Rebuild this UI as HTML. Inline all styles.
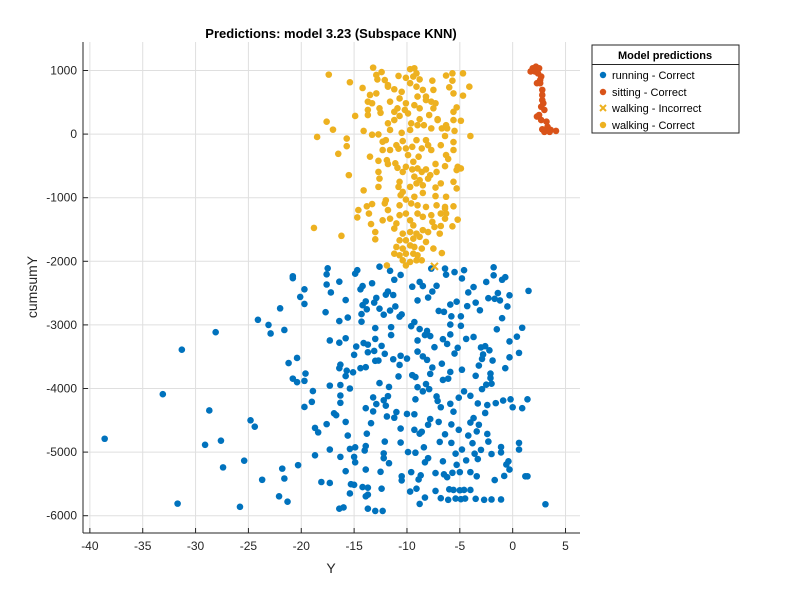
<!DOCTYPE html>
<html><head><meta charset="utf-8"><style>
body{margin:0;background:#fff;width:800px;height:600px;overflow:hidden;font-family:"Liberation Sans",Arial,sans-serif}
svg text{font-family:"Liberation Sans",Arial,sans-serif}
</style></head><body>
<svg id="chart" width="800" height="600" xmlns="http://www.w3.org/2000/svg">
<rect x="0" y="0" width="800" height="600" fill="#fff"/>
<g id="grid"></g>
<g id="marks"></g>
<g id="axes"></g>
<text x="331" y="38" text-anchor="middle" font-size="13" font-weight="bold" fill="#000">Predictions: model 3.23 (Subspace KNN)</text>
<text x="331" y="573" text-anchor="middle" font-size="14" fill="#262626">Y</text>
<text x="37" y="287" text-anchor="middle" font-size="14" fill="#262626" transform="rotate(-90 37 287)">cumsumY</text>
<g>
<rect x="592" y="45" width="147" height="88" fill="#fff" stroke="#262626" stroke-width="1"/>
<text x="665" y="59" text-anchor="middle" font-size="11" font-weight="bold" fill="#000">Model predictions</text>
<line x1="592" y1="64.5" x2="739" y2="64.5" stroke="#262626"/>
<g><circle cx="603" cy="75" r="3.2" fill="#0072BD"/><text x="612" y="79" font-size="11" fill="#000">running - Correct</text></g>
<g><circle cx="603" cy="92" r="3.2" fill="#D95319"/><text x="612" y="96" font-size="11" fill="#000">sitting - Correct</text></g>
<g><path d="M600 105 L606 111 M606 105 L600 111" stroke="#EDB120" stroke-width="2"/><text x="612" y="112" font-size="11" fill="#000">walking - Incorrect</text></g>
<g><circle cx="603" cy="125" r="3.2" fill="#EDB120"/><text x="612" y="129" font-size="11" fill="#000">walking - Correct</text></g>
</g>
</svg>
<script>
const xTicks=[-40,-35,-30,-25,-20,-15,-10,-5,0,5];
const yTicks=[-6000,-5000,-4000,-3000,-2000,-1000,0,1000];
const runningX=[-38.6,-33.1,-31.3,-31.7,-28.1,-28.7,-29.1,-27.6,-27.4,-25.8,-25.4,-24.8,-24.4,-24.1,-23.7,-23.1,-22.9,-22.0,-22.1,-21.8,-21.6,-21.6,-21.3,-21.2,-20.8,-20.8,-20.8,-20.4,-20.3,-20.4,-20.1,-19.7,-19.7,-19.7,-19.6,-19.7,-19.0,-18.9,-18.7,-18.7,-18.4,-18.1,-17.7,-17.6,-17.5,-17.6,-17.6,-17.3,-17.3,-17.3,-17.3,-17.2,-16.9,-16.7,-16.4,-16.4,-16.4,-16.4,-16.3,-16.3,-16.3,-16.3,-16.3,-16.4,-16.0,-15.8,-15.8,-15.8,-15.7,-15.8,-15.8,-15.6,-15.6,-15.4,-15.4,-15.4,-15.3,-15.1,-15.0,-15.0,-15.0,-14.9,-14.9,-14.9,-14.8,-14.7,-14.4,-14.4,-14.3,-14.3,-14.2,-14.2,-14.1,-14.2,-14.0,-13.9,-13.9,-13.9,-13.9,-13.9,-13.9,-13.8,-13.8,-13.7,-13.7,-13.7,-13.7,-13.7,-13.4,-13.3,-13.2,-13.2,-13.1,-13.1,-13.0,-13.0,-13.0,-12.9,-12.9,-13.0,-12.7,-12.6,-12.6,-12.6,-12.5,-12.4,-12.4,-12.3,-12.2,-12.2,-12.2,-12.2,-12.1,-12.1,-12.0,-12.0,-11.9,-11.8,-11.8,-11.7,-11.7,-11.6,-11.6,-11.5,-11.5,-11.3,-11.3,-11.2,-11.2,-11.1,-11.0,-10.8,-10.7,-10.7,-10.6,-10.6,-10.6,-10.5,-10.5,-10.5,-10.6,-10.0,-10.0,-9.9,-9.7,-9.6,-9.6,-9.5,-9.5,-9.3,-9.3,-9.3,-9.2,-9.2,-9.2,-9.1,-9.0,-9.0,-9.0,-9.0,-8.9,-8.8,-8.8,-8.8,-8.8,-8.7,-8.6,-8.5,-8.5,-8.5,-8.4,-8.3,-8.3,-8.3,-8.2,-8.1,-8.1,-8.0,-8.0,-8.0,-7.9,-7.8,-7.8,-7.8,-7.7,-7.6,-7.6,-7.4,-7.3,-7.3,-7.2,-7.2,-7.1,-7.0,-7.0,-6.9,-6.8,-6.8,-6.7,-6.6,-6.6,-6.6,-6.5,-6.5,-6.4,-6.3,-6.4,-6.2,-6.2,-6.1,-6.1,-6.0,-5.9,-5.9,-5.9,-5.9,-5.9,-5.8,-5.8,-5.8,-5.7,-5.6,-5.6,-5.5,-5.5,-5.4,-5.4,-5.3,-5.3,-5.2,-5.1,-5.1,-5.0,-5.0,-4.9,-4.9,-4.9,-4.8,-4.8,-4.8,-4.6,-4.6,-4.6,-4.5,-4.4,-4.4,-4.3,-4.2,-4.2,-4.0,-4.0,-4.0,-4.0,-3.8,-3.7,-3.7,-3.7,-3.6,-3.5,-3.5,-3.5,-3.4,-3.4,-3.3,-3.3,-3.2,-3.2,-3.1,-3.0,-3.0,-2.9,-2.9,-2.8,-2.7,-2.6,-2.6,-2.5,-2.5,-2.4,-2.4,-2.3,-2.3,-2.2,-2.1,-2.1,-2.0,-2.0,-2.0,-1.9,-1.8,-1.8,-1.7,-1.7,-1.6,-1.5,-1.4,-1.2,-1.1,-1.1,-1.1,-1.0,-1.0,-0.9,-0.8,-0.7,-0.7,-0.6,-0.5,-0.4,-0.3,-0.3,-0.3,-0.3,-0.2,0.0,0.4,0.6,0.6,0.6,0.9,0.9,1.2,1.4,1.4,1.5,3.1];
const runningY=[-4790,-4090,-3390,-5810,-3115,-4345,-4885,-4820,-5240,-5860,-5135,-4500,-4600,-2920,-5435,-3000,-3135,-2740,-5695,-5260,-5415,-3080,-5780,-3600,-2265,-2235,-3845,-3520,-5205,-3900,-2560,-2670,-2440,-3880,-3765,-4290,-4210,-4040,-4620,-5050,-4690,-5470,-2800,-2205,-2110,-2365,-4560,-3955,-3245,-4960,-5485,-2490,-4390,-4420,-2320,-2940,-3280,-3680,-3625,-3945,-4110,-4225,-5075,-5890,-5870,-2610,-3210,-3805,-3720,-4525,-5300,-4740,-2885,-4000,-4950,-5650,-5505,-3745,-5515,-3470,-5075,-5160,-2195,-4925,-3340,-2140,-3680,-2440,-2830,-2950,-2390,-2690,-3285,-5550,-4975,-5695,-4905,-4310,-5275,-3665,-2630,-2755,-4710,-3430,-3310,-5670,-5560,-5890,-4545,-2345,-4140,-4360,-2650,-3410,-3220,-3565,-3050,-2575,-4245,-5925,-3560,-2085,-3915,-2745,-5310,-5575,-3330,-5925,-4185,-5020,-2840,-5095,-4835,-3455,-2525,-4270,-4440,-4120,-2475,-5175,-3975,-2150,-2775,-3035,-3160,-2530,-3540,-4460,-2290,-2710,-4370,-3810,-2870,-3630,-3485,-4850,-4630,-2835,-5380,-5445,-2215,-4400,-3530,-5000,-5620,-5315,-3020,-2400,-3790,-4405,-2955,-4650,-5010,-4170,-3820,-5575,-2615,-3420,-3245,-3980,-5430,-2325,-5815,-3065,-4710,-5365,-4680,-2390,-3495,-4045,-4925,-3160,-5715,-5160,-3930,-3550,-3095,-4570,-2570,-5095,-4010,-4480,-3770,-3175,-2115,-3670,-2475,-3350,-5330,-5610,-2385,-4125,-4195,-4525,-2780,-4840,-5725,-4295,-3610,-3865,-5145,-3225,-5350,-2795,-2115,-2210,-4720,-5395,-3300,-5750,-3845,-5585,-2680,-3150,-4240,-3740,-2995,-4565,-4855,-2865,-5325,-4365,-5595,-2170,-3450,-5730,-5025,-5200,-2635,-3360,-4650,-4145,-5600,-5315,-5740,-2865,-3015,-2270,-3705,-4960,-2140,-4045,-5595,-5730,-3220,-5130,-2705,-4740,-2490,-5315,-4535,-5595,-4115,-4860,-2405,-4465,-3190,-5025,-5735,-3800,-2650,-4675,-5380,-4235,-5110,-3640,-4570,-2770,-4965,-3355,-4010,-3535,-3465,-5750,-3335,-4385,-2325,-3940,-4715,-4260,-4835,-2580,-3400,-3835,-3765,-5030,-5745,-3925,-3560,-2095,-2220,-2590,-5440,-4230,-3070,-2500,-2615,-4920,-5745,-5005,-2895,-2290,-4190,-5375,-3680,-2250,-5195,-2710,-5145,-3510,-3260,-2535,-5275,-4170,-4295,-3185,-4855,-4960,-3440,-4310,-3045,-5380,-5380,-4170,-2465,-5820];
const walkingX=[-17.4,-15.4,-13.2,-12.4,-12.9,-12.8,-12.1,-11.8,-14.2,-11.2,-13.5,-12.9,-11.6,-10.5,-10.1,-9.7,-9.3,-9.1,-9.4,-8.8,-9.7,-9.1,-8.5,-7.6,-7.5,-6.3,-5.7,-4.7,-5.7,-6.0,-5.6,-4.1,-4.7,-8.2,-7.7,-7.3,-9.0,-9.3,-10.1,-10.7,-10.9,-10.2,-13.7,-13.7,-12.6,-12.5,-14.9,-13.7,-11.8,-11.2,-10.7,-9.6,-8.8,-9.0,-8.4,-7.9,-7.1,-6.7,-6.2,-5.6,-5.3,-5.6,-4.9,-5.5,-6.4,-5.6,-4.0,-17.6,-17.0,-18.5,-15.7,-15.7,-16.5,-14.1,-13.3,-12.7,-12.3,-12.0,-11.6,-12.3,-11.0,-10.8,-10.5,-10.4,-10.1,-9.9,-9.5,-9.1,-8.6,-8.2,-8.0,-7.7,-8.9,-9.4,-13.5,-12.7,-11.9,-11.8,-11.1,-10.9,-10.4,-10.1,-9.5,-9.0,-8.6,-8.2,-7.8,-7.2,-7.3,-6.8,-6.3,-6.1,-6.4,-5.2,-4.9,-15.5,-14.1,-12.7,-12.6,-12.7,-10.7,-10.8,-10.4,-10.6,-9.7,-9.1,-9.3,-8.8,-8.5,-8.0,-7.3,-6.8,-5.6,-5.3,-6.3,-7.3,-8.5,-9.3,-10.1,-9.6,-9.0,-8.2,-12.0,-12.1,-11.8,-13.3,-13.8,-14.6,-14.7,-13.6,-12.3,-11.6,-11.0,-11.2,-13.4,-13.0,-13.0,-10.7,-10.1,-9.7,-9.4,-9.0,-8.5,-7.7,-7.6,-7.4,-6.8,-6.4,-6.3,-6.4,-5.6,-5.2,-5.7,-6.8,-6.9,-8.5,-8.0,-9.1,-9.7,-10.4,-10.7,-10.1,-9.4,-8.8,-8.2,-7.5,-6.7,-11.0,-10.4,-9.7,-9.3,-8.6,-11.2,-10.7,-10.1,-9.4,-9.0,-10.4,-9.7,-9.1,-8.6,-11.9,-10.1,-18.8,-16.2,-11.8,-13.3,-10.8,-9.9,-8.8,-8.2,-7.5,-7.1,-11.6,-9.7,-7.7,-11.2,-5.6,-6.3,-5.3,-7.2,-6.4,-10.7];
const walkingY=[935,815,1045,975,930,860,850,770,725,705,615,640,510,665,885,1020,1035,955,905,860,800,745,695,840,695,920,955,955,840,735,640,745,605,590,510,485,590,455,485,560,405,380,510,380,405,335,285,300,170,220,285,170,235,140,140,300,235,90,90,350,420,220,210,50,-30,-125,-30,195,70,-45,-70,-190,-310,50,-10,-5,-120,-95,-250,-250,-175,-230,20,-110,-225,-330,-200,-95,-225,-95,-175,-250,-355,-435,-355,-420,-410,-470,-460,-530,-595,-515,-555,-540,-595,-555,-645,-595,-470,-175,-330,-390,-505,-515,-540,-645,-885,-595,-700,-830,-750,-830,-910,-960,-830,-775,-670,-725,-805,-700,-840,-775,-750,-855,-985,-975,-925,-985,-1030,-1090,-1120,-1145,-1040,-1090,-1195,-1100,-1135,-1195,-1310,-1250,-1355,-1330,-1405,-1485,-1415,-1540,-1655,-1275,-1250,-1355,-1435,-1250,-1300,-1275,-1380,-1460,-1250,-1170,-1250,-1330,-1135,-1345,-1450,-1445,-1565,-1510,-1540,-1565,-1540,-1565,-1670,-1670,-1645,-1615,-1695,-1800,-1870,-1775,-1800,-1750,-1775,-1800,-1880,-1905,-1880,-1880,-1905,-1985,-2010,-1985,-1985,-2065,-2065,-1475,-1600,745,485,915,325,405,535,405,220,65,65,90,350,-250,140,-565,-1120,-1145,-1120];
const walkingWrongX=[-7.4];
const walkingWrongY=[-2080];
const sittingX=[1.9,2.2,2.5,1.7,2.1,2.4,2.7,2.3,2.6,2.8,2.8,2.7,3.0,2.3,2.7,3.2,3.3,3.0,3.6,4.1,2.8,2.6,2.8,2.9,2.5,3.5];
const sittingY=[1035,1060,1035,985,985,955,905,800,800,695,535,430,380,275,220,195,115,35,65,50,75,850,615,485,300,35];

const L=83,R=580,T=42,B=533;
const X0=-40.65,X1=6.37,Y0=-6272,Y1=1448;
function sx(v){return L+(v-X0)/(X1-X0)*(R-L);}
function sy(v){return B-(v-Y0)/(Y1-Y0)*(B-T);}
const NS='http://www.w3.org/2000/svg';
function mk(tag,attrs,parent){const e=document.createElementNS(NS,tag);for(const k in attrs)e.setAttribute(k,attrs[k]);parent.appendChild(e);return e;}
const grid=document.getElementById('grid'),axes=document.getElementById('axes'),marks=document.getElementById('marks');
xTicks.forEach(t=>{
  const x=sx(t);
  const g=mk('line',{x1:x,x2:x,y1:T,y2:B,stroke:'#dfdfdf','stroke-width':1},grid);
  
  
  const tk=mk('line',{x1:x,x2:x,y1:B,y2:B-5,stroke:'#262626'},axes);
  
  
  const tx=mk('text',{x:x,y:B+17,'text-anchor':'middle','font-size':12,fill:'#262626'},axes);
  tx.textContent=String(t).replace('-','\u2212').replace('\u2212','-');
  
  
});
yTicks.forEach(t=>{
  const y=sy(t);
  const g=mk('line',{x1:L,x2:R,y1:y,y2:y,stroke:'#dfdfdf','stroke-width':1},grid);
  
  
  const tk=mk('line',{x1:L,x2:L+5,y1:y,y2:y,stroke:'#262626'},axes);
  
  
  const tx=mk('text',{x:L-6,y:y+4,'text-anchor':'end','font-size':12,fill:'#262626'},axes);
  tx.textContent=String(t);
  
  
});
const xa=mk('line',{x1:L,x2:R,y1:B,y2:B,stroke:'#262626'},axes);


const ya=mk('line',{x1:L,x2:L,y1:T,y2:B,stroke:'#262626'},axes);


function dots(xs,ys,color,name){
  xs.forEach((v,i)=>{
    const c=mk('circle',{cx:sx(v),cy:sy(ys[i]),r:3.3,fill:color},marks);
    
    
  });
}
dots(runningX,runningY,'#0072BD','running-point');
dots(walkingX,walkingY,'#EDB120','walking-point');
dots(sittingX,sittingY,'#D95319','sitting-point');
walkingWrongX.forEach((v,i)=>{
  const x=sx(v),y=sy(walkingWrongY[i]);
  const p=mk('path',{d:`M${x-3.5} ${y-3.5}L${x+3.5} ${y+3.5}M${x+3.5} ${y-3.5}L${x-3.5} ${y+3.5}`,stroke:'#EDB120','stroke-width':2},marks);
  
  
});
</script>
</body></html>
